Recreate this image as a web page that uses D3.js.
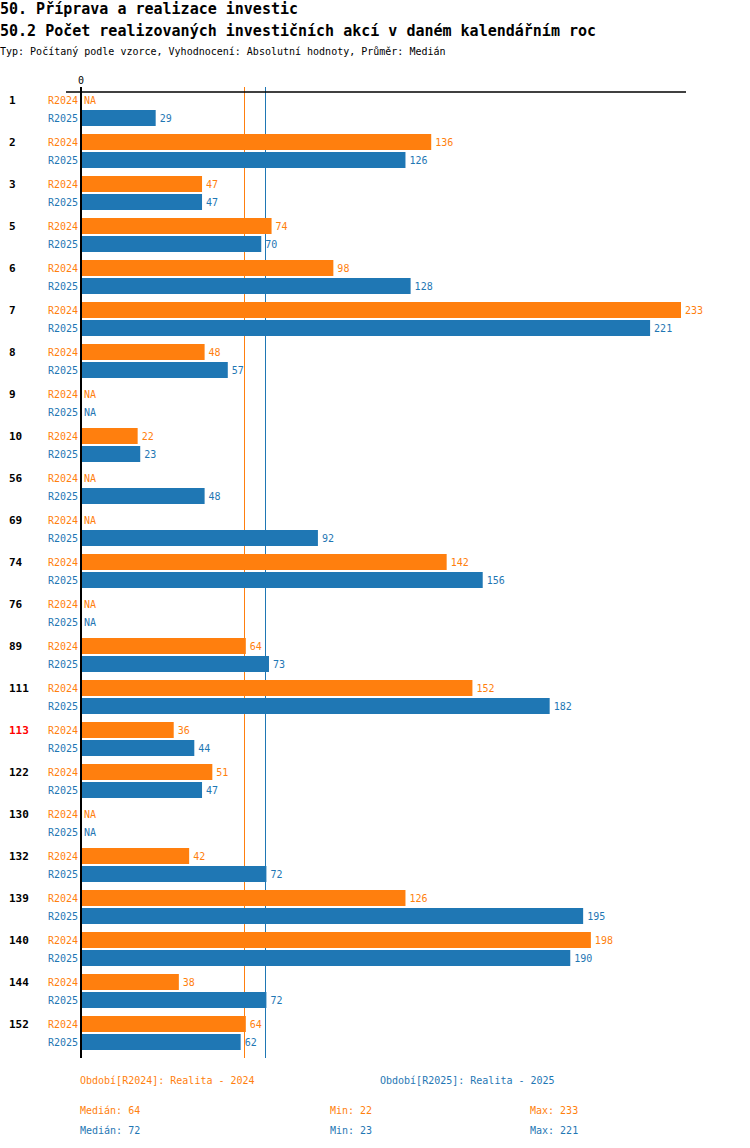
<!DOCTYPE html>
<html><head><meta charset="utf-8">
<script src="https://cdn.jsdelivr.net/npm/d3@7"></script>
<style>body{margin:0;background:#fff}svg{display:block}text{font-family:"DejaVu Sans Mono",monospace}</style>
</head><body><svg id="c" width="750" height="1148"></svg>
<script>
const categories = ["1","2","3","5","6","7","8","9","10","56","69","74","76","89","111","113","122","130","132","139","140","144","152"];
const highlighted = ["113"];
const seriesNames = ["R2024","R2025"];
const values2024 = [null,136,47,74,98,233,48,null,22,null,null,142,null,64,152,36,51,null,42,126,198,38,64];
const values2025 = [29,126,47,70,128,221,57,null,23,48,92,156,null,73,182,44,47,null,72,195,190,72,62];
const legendLabels = ["Období[R2024]: Realita - 2024","Období[R2025]: Realita - 2025"];
const colors = ["#ff7f0e","#1f77b4"];

(function(){
const svg = d3.select("#c");
const series = [values2024, values2025];

svg.append("text").attr("x",0).attr("y",13.5).attr("font-size",15).attr("font-weight","bold").text("50. Příprava a realizace investic");
svg.append("text").attr("x",0).attr("y",35.5).attr("font-size",15).attr("font-weight","bold").text("50.2 Počet realizovaných investičních akcí v daném kalendářním roc");
svg.append("text").attr("x",0).attr("y",55).attr("font-size",10).text("Typ: Počítaný podle vzorce, Vyhodnocení: Absolutní hodnoty, Průměr: Medián");

const maxV = d3.max(series.flat().filter(v=>v!=null));
const x = d3.scaleLinear().domain([0,maxV]).range([81,681]);
const y0 = 92, groupH = 42;
const y = d3.scaleBand().domain(categories).range([y0, y0+groupH*categories.length]);
const bottom = y0+groupH*categories.length;
const barH = 16;
const barOff = [0, 18];

const stats = series.map(s=>{const f=s.filter(v=>v!=null);return {med:d3.median(f),min:d3.min(f),max:d3.max(f)};});
stats.forEach((st,k)=>{
  const px = Math.floor(x(st.med))-0.5;
  svg.append("line").attr("x1",px).attr("x2",px).attr("y1",87).attr("y2",bottom).attr("stroke",colors[k]).attr("stroke-width",1);
});

svg.append("line").attr("x1",66).attr("x2",686).attr("y1",y0).attr("y2",y0).attr("stroke","#000").attr("stroke-width",1.5);
svg.append("text").attr("x",x(0)).attr("y",84).attr("text-anchor","middle").attr("font-size",10).text("0");

categories.forEach((c,i)=>{
  const g = svg.append("g");
  g.append("text").attr("x",9).attr("y",y(c)+barOff[0]+barH/2+4).attr("font-size",11).attr("font-weight","bold")
    .attr("fill", highlighted.includes(c)?"#ff0000":"#000").text(c);
  series.forEach((s,k)=>{
    const yy = y(c)+barOff[k];
    g.append("text").attr("x",78).attr("y",yy+barH/2+4).attr("text-anchor","end").attr("font-size",10).attr("fill",colors[k]).text(seriesNames[k]);
    const v = s[i];
    if(v==null){
      g.append("text").attr("x",x(0)+3).attr("y",yy+barH/2+4).attr("font-size",10).attr("fill",colors[k]).text("NA");
    } else {
      g.append("rect").attr("x",x(0)).attr("y",yy).attr("width",x(v)-x(0)).attr("height",barH).attr("fill",colors[k]);
      g.append("text").attr("x",x(v)+4).attr("y",yy+barH/2+4).attr("font-size",10).attr("fill",colors[k]).text(v);
    }
  });
});

svg.append("line").attr("x1",x(0)).attr("x2",x(0)).attr("y1",87).attr("y2",bottom).attr("stroke","#000").attr("stroke-width",2);

legendLabels.forEach((l,k)=>{
  svg.append("text").attr("x",[80,380][k]).attr("y",1084).attr("font-size",10).attr("fill",colors[k]).text(l);
});
stats.forEach((st,k)=>{
  const yy = 1114+20*k;
  svg.append("text").attr("x",80).attr("y",yy).attr("font-size",10).attr("fill",colors[k]).text("Medián: "+st.med);
  svg.append("text").attr("x",330).attr("y",yy).attr("font-size",10).attr("fill",colors[k]).text("Min: "+st.min);
  svg.append("text").attr("x",530).attr("y",yy).attr("font-size",10).attr("fill",colors[k]).text("Max: "+st.max);
});
})();
</script></body></html>
